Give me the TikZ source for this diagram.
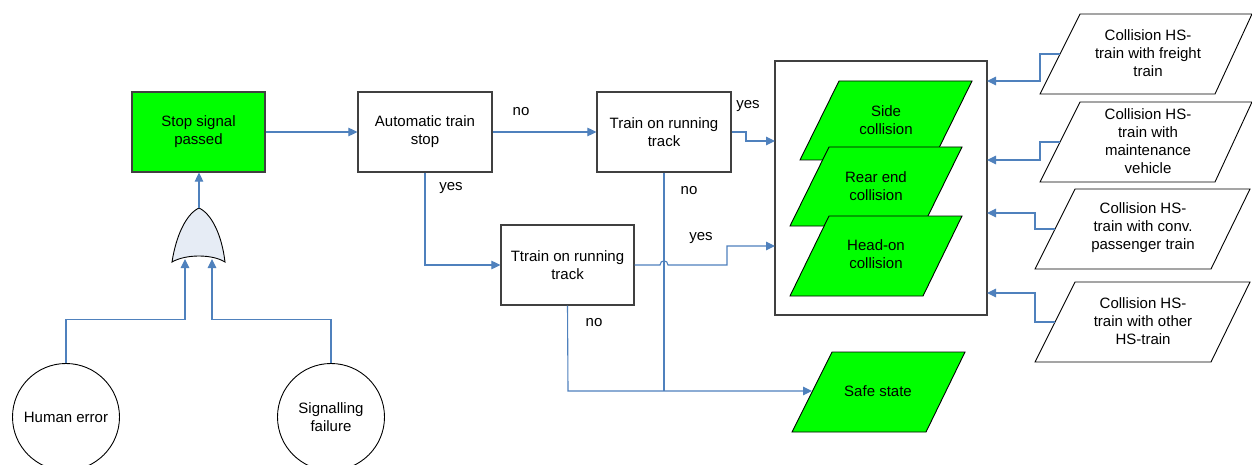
\documentclass[tikz,border=0pt]{standalone}
\usepackage{fontspec}
\setmainfont{Liberation Sans}
\usetikzlibrary{arrows.meta}
\definecolor{lnblue}{RGB}{79,129,189}
\definecolor{boxgray}{RGB}{64,64,64}
\definecolor{ggreen}{RGB}{0,255,0}
\definecolor{gatefill}{RGB}{230,236,245}
\begin{document}
\begin{tikzpicture}[x=1pt,y=-1pt,
  txt/.style={font=\fontsize{15}{18}\selectfont, align=center, text=black, inner sep=0pt},
  stepbox/.style={draw=boxgray, line width=1.2pt, rectangle, inner sep=0pt, minimum width=133pt, minimum height=80pt, txt},
  para/.style={draw=black, line width=0.9pt, line join=miter},
  conn/.style={draw=lnblue, line width=1.1pt},
  arr/.style={conn, -{Triangle[length=9pt,width=8.5pt]}},
  lbl/.style={txt}]
\useasboundingbox (0,0) rectangle (1252,465);
\fill[white] (0,0) rectangle (1252,465);

% boxes
\node[stepbox, fill=ggreen] (stop) at (198.5,132) {Stop signal\\passed};
\node[stepbox, minimum width=134pt] (ats) at (425,132) {Automatic train\\stop};
\node[stepbox, minimum width=134pt] (tort) at (664,132) {Train on running\\track};
\node[stepbox] (ttrain) at (567.5,265) {Ttrain on running\\track};

% big box
\node[draw=boxgray, line width=1.2pt, rectangle, minimum width=212pt, minimum height=254pt, inner sep=0pt] (big) at (881,188) {};
\coordinate (inA) at (775,141);
\coordinate (inB) at (775,246);

% collision parallelograms
\draw[para, fill=ggreen] (839,81) -- (972,81) -- (933,160) -- (800,160) -- cycle;
\node[txt] (side) at (886,120) {Side\\collision};
\draw[para, fill=ggreen] (829,147) -- (962,147) -- (923,226) -- (790,226) -- cycle;
\node[txt] (rear) at (876,186) {Rear end\\collision};
\draw[para, fill=ggreen] (829,216) -- (962,216) -- (923,296) -- (790,296) -- cycle;
\node[txt] (head) at (876,254) {Head-on\\collision};

% safe state
\draw[para, fill=ggreen] (832,352) -- (965,352) -- (926,432) -- (792,432) -- cycle;
\node[txt] (safe) at (878,391) {Safe state};
\coordinate (safein) at (812,391);

% right parallelograms
\draw[para, fill=white] (1080,14) -- (1252,14) -- (1215,94) -- (1040,94) -- cycle;
\node[txt] (c1) at (1148,53) {Collision HS-\\train with freight\\train};
\coordinate (c1in) at (1060,54);
\draw[para, fill=white] (1080,102) -- (1252,102) -- (1215,182) -- (1040,182) -- cycle;
\node[txt] (c2) at (1148,141) {Collision HS-\\train with\\maintenance\\vehicle};
\coordinate (c2in) at (1060,142);
\draw[para, fill=white] (1075,189) -- (1250,189) -- (1211,269) -- (1035,269) -- cycle;
\node[txt] (c3) at (1143,228) {Collision HS-\\train with conv.\\passenger train};
\coordinate (c3in) at (1055,229);
\draw[para, fill=white] (1075,282) -- (1250,282) -- (1211,362) -- (1035,362) -- cycle;
\node[txt] (c4) at (1143,321) {Collision HS-\\train with other\\HS-train};
\coordinate (c4in) at (1055,322);

\draw[arr] (c1in) -- (1040,54) -- (1040,81) -- (987,81);
\draw[arr] (c2in) -- (1040,142) -- (1040,160) -- (987,160);
\draw[arr] (c3in) -- (1035,229) -- (1035,213) -- (987,213);
\draw[arr] (c4in) -- (1035,322) -- (1035,293) -- (987,293);

% OR gate
\draw[draw=black, line width=0.9pt, fill=gatefill]
  (172,262) .. controls (176,236) and (186,214) .. (199,208)
  .. controls (212,214) and (222,236) .. (225,262)
  .. controls (212,254) and (186,254) .. cycle;
\coordinate (gatetop) at (199,208);
\coordinate (gin1) at (185,259);
\coordinate (gin2) at (212,259);

% circles
\node[draw=black, line width=0.9pt, circle, minimum size=107pt, inner sep=0pt, txt] (human) at (66,417) {Human error};
\node[draw=black, line width=0.9pt, circle, minimum size=107pt, inner sep=0pt, txt] (sig) at (331,417) {Signalling\\failure};

% connectors
\draw[arr] (gatetop) -- (stop.south -| gatetop);
\draw[arr] (human.north) -- ++(0,-44) -| (gin1);
\draw[arr] (sig.north) -- ++(0,-44) -| (gin2);
\draw[arr] (stop.east) -- (ats.west);
\draw[arr] (ats.east) -- (tort.west);
\draw[arr] (ats.south) |- (ttrain.west);
\draw[arr] (tort.east) -- (746,132) -- (746,141) -- (inA);
\draw[arr] (ttrain.east) -- (660,265) .. controls (660,259.5) and (668,259.5) .. (668,265) -- (727,265) -- (727,246) -- (inB);
\draw[arr] (ttrain.south) -- (568,391) -- (safein);
\draw[conn] (tort.south) -- (664,391);

% labels
\node[lbl] at (521,112) {no};
\node[lbl] at (451,188) {yes};
\node[lbl] at (748,106) {yes};
\node[lbl] at (689,191) {no};
\node[lbl] at (701,238) {yes};
\node[lbl] at (594,323) {no};
\end{tikzpicture}
\end{document}
